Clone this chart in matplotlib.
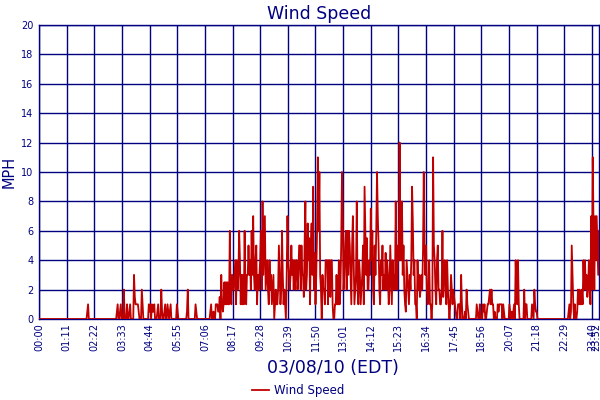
import numpy as np
import matplotlib
matplotlib.use("Agg")
import matplotlib.pyplot as plt

# wind speed every 2 minutes, one string per hour, each char = half-MPH steps in base 36
# (0 -> 0, 2 -> 1 mph, a -> 5 mph, k -> 10 mph, o -> 12 mph)
night = [
    "000000000000000000000000000000",  # 00
    "000000000000000000000000000000",  # 01
    "001200000000000000000000000000",  # 02
    "000000000012001200040002001200",  # 03
    "006322221000420000000212021120",  # 04
    "001200041001200210120000000210",  # 05
]
morning = [
    "000000000014000000000210000000",  # 06
    "000000000012001002221130621252",  # 07
    "52522c42644682846c826262c4266a",  # 08
    "684c6e648a26468c4g6ae468428462",  # 09
    "46024224a624c624206e8646a68484",  # 10
    "8846aa4a663ag46d8b2ad6i4926cmc",  # 11
]
afternoon = [
    "k640644288828838820022622824ak",  # 12
    "e46ac4c6ca62ae8246g4286246a2ic",  # 13
    "6b4486f8c42a6ckea4286a46494862",  # 14
    "4a628464g84a8ob8g6a4218642648i",  # 15
    "d6822084634649ka6a42482202ma84",  # 16
    "28a44224c368428420264243210022",  # 17
]
evening = [
    "206200010421000000000021002000",  # 18
    "212001223424220100021222202100",  # 19
    "000021010120842820000004022000",  # 20
    "000210421100000000000000000000",  # 21
    "000000000000000000001201a62020",  # 22
    "0142422428484634862e4mc4e8ea6c",  # 23
]

tick_labels = ["00:00", "01:11", "02:22", "03:33", "04:44", "05:55", "07:06",
               "08:17", "09:28", "10:39", "11:50", "13:01", "14:12", "15:23",
               "16:34", "17:45", "18:56", "20:07", "21:18", "22:29", "23:40"]
last_label = "23:52"
y_ticks = [0, 2, 4, 6, 8, 10, 12, 14, 16, 18, 20]

NAVY = "#000080"
RED = "#c00000"


def to_minutes(label):
    h, m = label.split(":")
    return int(h) * 60 + int(m)


def decode(hours):
    vals = []
    for s in hours:
        vals.extend(int(c, 36) / 2 for c in s)
    return vals


speed = np.array(decode(night) + decode(morning) + decode(afternoon) + decode(evening))
minutes = np.arange(len(speed)) * 2

fig = plt.figure(figsize=(6, 4), dpi=100)
ax = fig.add_axes([39 / 600, 1 - 319 / 400, 560 / 600, 294 / 400])

ax.plot(minutes, speed, color=RED, lw=1.3, label="Wind Speed", zorder=3)

ax.set_xlim(0, minutes[-1])
ax.set_ylim(0, 20)
ax.set_yticks(y_ticks)
ax.set_xticks([to_minutes(t) for t in tick_labels])
ax.set_xticklabels(tick_labels)
ax.set_xticks([to_minutes(last_label)], minor=True)
ax.set_xticklabels([last_label], minor=True)
ax.tick_params(axis="x", which="both", rotation=90, length=0, labelsize=7, colors=NAVY, pad=3)
ax.tick_params(axis="y", length=0, labelsize=7, colors=NAVY, pad=4)
ax.grid(True, which="major", color=NAVY, lw=1)
ax.set_axisbelow(True)
for sp in ax.spines.values():
    sp.set_color(NAVY)
    sp.set_linewidth(1)

ax.set_title("Wind Speed", color=NAVY, fontsize=12.5, pad=4)
ax.set_ylabel("MPH", color=NAVY, fontsize=10.5, labelpad=3)
ax.set_xlabel("03/08/10 (EDT)", color=NAVY, fontsize=12.5)
ax.xaxis.set_label_coords(0.525, -0.135)

fig.legend(loc="lower center", bbox_to_anchor=(0.497, -0.02), frameon=False,
           fontsize=8.5, labelcolor=NAVY, handlelength=1.4, handletextpad=0.4)

fig.savefig("out.png", dpi=100)
